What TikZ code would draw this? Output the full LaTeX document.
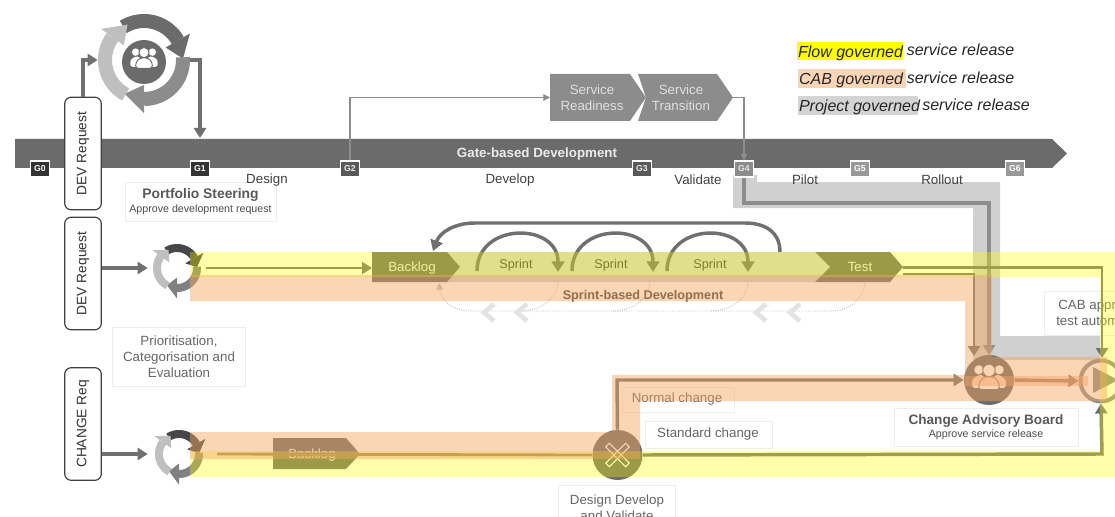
\documentclass[tikz,border=0pt]{standalone}
\usepackage{fontspec}
\setmainfont{Liberation Sans}
\usetikzlibrary{arrows.meta,calc}
\definecolor{barg}{HTML}{6B6B6B}
\definecolor{shapeg}{HTML}{8C8C8C}
\definecolor{lineg}{HTML}{707070}
\definecolor{bandg}{HTML}{D0D0D0}
\definecolor{lightg}{HTML}{BFBFBF}
\definecolor{txtg}{HTML}{595959}
\definecolor{ovy}{HTML}{FFFF00}
\definecolor{ovo}{HTML}{F4A460}
\newcommand{\cycring}[8]{%
  \draw[line width=#4*.75pt,#6] plot[domain=238:330,samples=20,variable=\t] ({#1+#3*cos(\t)},{#2+#3*sin(\t)});
  \fill[#6] ({#1+(#3-#5)*cos(330)},{#2+(#3-#5)*sin(330)}) -- ({#1+(#3+#5)*cos(330)},{#2+(#3+#5)*sin(330)}) -- ({#1+#3*cos(358)},{#2+#3*sin(358)}) -- cycle;
  \draw[line width=#4*.75pt,#7] plot[domain=-4:90,samples=20,variable=\t] ({#1+#3*cos(\t)},{#2+#3*sin(\t)});
  \fill[#7] ({#1+(#3-#5)*cos(90)},{#2+(#3-#5)*sin(90)}) -- ({#1+(#3+#5)*cos(90)},{#2+(#3+#5)*sin(90)}) -- ({#1+#3*cos(120)},{#2+#3*sin(120)}) -- cycle;
  \draw[line width=#4*.75pt,#8] plot[domain=118:216,samples=20,variable=\t] ({#1+#3*cos(\t)},{#2+#3*sin(\t)});
  \fill[#8] ({#1+(#3-#5)*cos(216)},{#2+(#3-#5)*sin(216)}) -- ({#1+(#3+#5)*cos(216)},{#2+(#3+#5)*sin(216)}) -- ({#1+#3*cos(245)},{#2+#3*sin(245)}) -- cycle;
}
\newcommand{\peopleicon}[4]{%
  \begin{scope}[shift={(#1,#2)},scale=#3]
    \foreach \s in {-1,1}{
      \fill[white] (\s*8.5,-6) circle[radius=3.8];
      \fill[white,rounded corners=1.8pt] (\s*3,9) -- (\s*14,9) -- (\s*14,2) -- (\s*9,-1.5) -- (\s*5,-1.5) -- (\s*3,2) -- cycle;
    }
    \draw[#4,fill=white,line width=.7pt] (0,-5.5) circle[radius=5.2];
    \draw[#4,fill=white,line width=.7pt,rounded corners=2pt] (-8.5,10.5) -- (8.5,10.5) -- (8.5,5) -- (4.5,0) -- (-4.5,0) -- (-8.5,5) -- cycle;
  \end{scope}
}
\tikzset{
  x=.75pt,y=-.75pt,
  gatebox/.style={draw=white,line width=1pt,minimum width=14.5pt,minimum height=12pt,inner sep=0pt,text=white,font=\bfseries\fontsize{6.5}{7}\selectfont},
  reqbox/.style={draw=black!75,line width=.9pt,fill=white,rounded corners=5pt,minimum width=84.5pt,minimum height=27.5pt,inner sep=0pt,rotate=90,font=\fontsize{10.3}{12}\selectfont,text=black!80},
  flowarrow/.style={draw=lineg,line width=3pt,-{Triangle[length=7.5pt,width=9pt]}},
  testarrow/.style={draw=lineg,line width=2.1pt,-{Triangle[length=7.5pt,width=9pt]}},
  thinarrow/.style={draw=lineg!80,line width=.8pt,-{Triangle[length=5pt,width=5pt]}},
  sprintarc/.style={draw=lineg,line width=2.6pt,-{Triangle[length=8pt,width=9.5pt]}},
  dotline/.style={draw=lightg,line width=.7pt,densely dotted},
  chev/.style={draw=black!11,line width=3.5pt},
  lab/.style={font=\fontsize{10}{12}\selectfont,text=black!75,inner sep=0pt},
  greylab/.style={font=\fontsize{10}{12}\selectfont,text=black!60,inner sep=0pt,align=center},
  sheet/.style={draw=black!7,line width=.5pt,fill=white},
  legendtxt/.style={font=\itshape\fontsize{12}{14}\selectfont,text=black!85,inner sep=0pt,anchor=base west},
  hub/.style={circle,inner sep=0pt,minimum size=#1*.75pt},
  disc/.style={circle,fill=barg,inner sep=0pt,minimum size=#1*.75pt},
  penttxt/.style={font=\fontsize{10}{12}\selectfont,text=black!12,inner sep=0pt,align=center},
}
\begin{document}
\begin{tikzpicture}
\path[use as bounding box,clip] (0,0) rectangle (1115,517);

% grey band (project governed)
\fill[bandg] (733,175) -- (757,175) -- (757,182) -- (1000,182) -- (1000,336) -- (1100,336) -- (1100,360) -- (973,360) -- (973,208) -- (733,208) -- cycle;

% gate bar
\fill[barg] (15,139) -- (1052,139) -- (1067,153.5) -- (1052,168) -- (15,168) -- cycle;
\coordinate (bartopA) at (200,138);
\node[font=\bfseries\fontsize{10}{12}\selectfont,text=black!8,inner sep=0pt] (gatetitle) at (537,154) {Gate-based Development};
\node[gatebox,fill=black!80] (g0) at (40,169) {G0};
\node[gatebox,fill=black!80] (g1) at (200,169) {G1};
\node[gatebox,fill=black!65,text=black!8] (g2) at (350,169) {G2};
\node[gatebox,fill=black!65,text=black!8] (g3) at (642,169) {G3};
\node[gatebox,fill=black!45,text=black!10] (g4) at (744,169) {G4};
\node[gatebox,fill=black!40] (g5) at (860,169) {G5};
\node[gatebox,fill=black!40] (g6) at (1015,169) {G6};

\node[lab] (phdevelop) at (510,180) {Develop};
\node[lab] (phvalidate) at (698,180) {Validate};
\node[lab] (phpilot) at (805,180) {Pilot};
\node[lab] (phrollout) at (942,180) {Rollout};

% legend
\node[fill=ovy,minimum width=79pt,minimum height=14pt,inner sep=0pt,anchor=west] (lgflow) at (797,51) {};
\node[legendtxt] at ([xshift=.6pt,yshift=-4.6pt]lgflow.west) {Flow governed};
\node[legendtxt] (lgflow2) at (906.5,55.8) {service release};
\node[fill=ovo!45,minimum width=80.5pt,minimum height=14.5pt,inner sep=0pt,anchor=west] (lgcab) at (798,78.5) {};
\node[legendtxt] at ([xshift=.6pt,yshift=-4.6pt]lgcab.west) {CAB governed};
\node[legendtxt] (lgcab2) at (906.5,83.8) {service release};
\node[fill=black!17,minimum width=90pt,minimum height=14.5pt,inner sep=0pt,anchor=west] (lgprj) at (798,105.5) {};
\node[legendtxt] at ([xshift=.6pt,yshift=-4.6pt]lgprj.west) {Project governed};
\node[legendtxt] (lgprj2) at (922,110.8) {service release};

% portfolio cycle
\node[hub=92] (cycA) at (144,60) {};
\cycring{144}{60}{39}{14}{14}{barg}{shapeg}{lightg}
\node[disc=44] (cycAc) at (144,62) {};
\peopleicon{144}{58}{.98}{barg}

% request boxes
\node[reqbox] (devA) at (83,153.5) {DEV Request};
\node[reqbox] (devB) at (83,273.5) {DEV Request};
\node[reqbox] (chg) at (83,424) {CHANGE Req};

\node[sheet,minimum width=113pt,minimum height=29pt,inner sep=0pt,align=center] (portfolio) at (200.5,201.5) {};
\node[inner sep=0pt,font=\bfseries\fontsize{10.4}{12}\selectfont,text=txtg] (pftitle) at (200.5,195) {Portfolio Steering};
\node[inner sep=0pt,font=\fontsize{8}{10}\selectfont,text=black!70] (pfsub) at (200.5,210) {Approve development request};
\node[lab] (phdesign) at (267,180) {Design};

\draw[flowarrow] (devA.east) |- (cycA.west);
\draw[flowarrow] (cycA.east) -| (bartopA);

% service shapes
\fill[shapeg] (550,74) -- (630,74) -- (646,97.5) -- (630,121) -- (550,121) -- cycle;
\fill[shapeg] (638,74) -- (717,74) -- (733,97.5) -- (717,121) -- (638,121) -- (646,97.5) -- cycle;
\node[penttxt] (readiness) at (592,98) {Service\\Readiness};
\node[penttxt] (transition) at (681,98) {Service\\Transition};
\coordinate (rdin) at (550,97.5);
\coordinate (trout) at (733,97.5);
\draw[thinarrow] (g2.north) |- (rdin);
\draw[thinarrow] (trout) -| (g4.north);

% grey flow line
\coordinate (gcab) at (989,355);
\draw[draw=shapeg,line width=2.6pt,-{Triangle[length=7.5pt,width=9pt]}] (g4.south) |- (gcab |- 0,203) -- (gcab);

% sprint row
\fill[black!18] (447,252) -- (815,252) -- (830,267) -- (815,282) -- (447,282) -- (460,267) -- cycle;
\fill[barg] (372,252) -- (447,252) -- (460,267) -- (447,282) -- (372,282) -- cycle;
\fill[barg] (815,252) -- (890,252) -- (903,267) -- (890,282) -- (815,282) -- (830,267) -- cycle;
\node[inner sep=0pt,font=\fontsize{10}{12}\selectfont,text=black!8] (backlogA) at (412,268) {Backlog};
\node[inner sep=0pt,font=\fontsize{10}{12}\selectfont,text=black!8] (testn) at (860,267) {Test};
\node[inner sep=0pt,font=\fontsize{9.5}{12}\selectfont,text=black!75] (spA) at (516,265) {Sprint};
\node[inner sep=0pt,font=\fontsize{9.5}{12}\selectfont,text=black!75] (spB) at (611,265) {Sprint};
\node[inner sep=0pt,font=\fontsize{9.5}{12}\selectfont,text=black!75] (spC) at (710,265) {Sprint};
\node[inner sep=0pt,font=\bfseries\fontsize{9.5}{12}\selectfont,text=black!75] (spdev) at (643,296) {Sprint-based Development};

\draw[sprintarc] (477,271) .. controls (477,222) and (558,222) .. (558,272);
\draw[sprintarc] (572,271) .. controls (572,222) and (653,222) .. (653,272);
\draw[sprintarc] (667,271) .. controls (667,222) and (748,222) .. (748,272);
\coordinate (loopS) at (780,252);
\coordinate (loopE) at (433,251);
\draw[sprintarc] (loopS) .. controls (780,232) and (765,223) .. (745,223) -- (475,223) .. controls (455,223) and (440,232) .. (loopE);

% dotted return
\draw[dotline,-{Triangle[length=5pt,width=5pt]}] (865,283) .. controls (862,300) and (850,311) .. (830,311) -- (470,311) .. controls (452,311) and (441,300) .. (439,283);
\draw[dotline] (558,283) .. controls (556,300) and (540,311) .. (520,311);
\draw[dotline] (650,283) .. controls (648,300) and (632,311) .. (612,311);
\draw[dotline] (748,283) .. controls (746,300) and (730,311) .. (710,311);
\foreach \cx in {483,516,755,789}{
  \draw[chev] (\cx+11,304) -- (\cx+1,312.5) -- (\cx+11,321);
}

% dev row
\node[hub=58] (cycB) at (177,268) {};
\cycring{177}{268}{20}{8}{10.5}{black!72}{black!50}{lightg}
\coordinate (lineBs) at (206,268);
\coordinate (backAin) at (372,268);
\draw[flowarrow] (devB.south |- cycB) -- (cycB.west);
\draw[testarrow] (lineBs) -- (backAin);

% prioritisation
\node[sheet,minimum width=100pt,minimum height=44pt,inner sep=0pt] (prio) at (179,356.5) {};
\node[greylab] (priot) at (179,357) {Prioritisation,\\Categorisation and\\Evaluation};

% change row
\node[hub=62] (cycC) at (179,454) {};
\cycring{179}{454}{20}{8}{10.5}{black!72}{black!50}{lightg}
\draw[flowarrow] (chg.south |- cycC) -- (cycC.west);
\coordinate (lineCs) at (217,454);
\fill[barg] (273,438) -- (346,438) -- (360,454) -- (346,469) -- (273,469) -- cycle;
\node[inner sep=0pt,font=\fontsize{10}{12}\selectfont,text=black!8] (backlogB) at (312,455) {Backlog};
\node[disc=50] (dd) at (617.5,455) {};
\begin{scope}[shift={(617.5,455)}]
  \draw[white,line width=.8pt,rotate=45] (-14,-2.6) rectangle (14,2.6);
  \draw[white,line width=.8pt,rotate=-45] (-14,-2.6) rectangle (14,2.6);
\end{scope}
\draw[draw=lineg,line width=2.1pt] (lineCs) -- (dd.west);

% labels boxes
\node[sheet,minimum width=84pt,minimum height=19pt,inner sep=0pt] (normalbox) at (678,399.5) {};
\node[greylab] (normal) at (677,399) {Normal change};
\node[sheet,minimum width=95pt,minimum height=20pt,inner sep=0pt] (stdbox) at (708.5,434.5) {};
\node[greylab] (std) at (708,434) {Standard change};
\node[sheet,minimum width=138pt,minimum height=28.5pt,inner sep=0pt] (cabbox) at (986,427) {};
\node[inner sep=0pt,font=\bfseries\fontsize{10.2}{12}\selectfont,text=txtg] (cabt) at (986,421) {Change Advisory Board};
\node[inner sep=0pt,font=\fontsize{8}{10}\selectfont,text=black!70] (cabs) at (986,435) {Approve service release};
\node[sheet,minimum width=88pt,minimum height=33pt,inner sep=0pt,anchor=west,align=left] (capp) at (1044,313) {};
\node[greylab,anchor=west,align=left] (capt) at (1056,313) {\hspace*{1.5pt}CAB appr\\test autom};
\node[sheet,minimum width=88pt,minimum height=30pt,inner sep=0pt,anchor=north] (ddbox) at (617,485) {};
\node[greylab,anchor=north] (ddt) at (617,495) {Design Develop\\and Validate};

% CAB board and release
\node[disc=50] (cabc) at (989,380) {};
\peopleicon{989}{377}{1.2}{barg}
\node[circle,draw=shapeg,line width=3pt,fill=white,inner sep=0pt,minimum size=41*.75pt] (play) at (1101,381) {};
\fill[shapeg] (1093,367) -- (1118,380) -- (1093,393) -- cycle;
\coordinate (nchg) at (617,380);
\draw[draw=lineg,line width=2.6pt,-{Triangle[length=7.5pt,width=9pt]}] (dd.north) -- (nchg) -- (cabc.west);
\draw[draw=lineg,line width=2.6pt,-{Triangle[length=7.5pt,width=9pt]}] (cabc.east) -- (play.west);
\coordinate (stdc) at (1102,454);
\draw[draw=lineg,line width=2.6pt,-{Triangle[length=7.5pt,width=9pt]}] (dd.east) -- (stdc) -- (play.south);

% test lines
\coordinate (tA) at (903,267.5);
\coordinate (tB) at (903,274);
\coordinate (tAc) at (1102,267.5);
\coordinate (tBc) at (974,274);
\coordinate (tAe) at (1102,358);
\coordinate (tBe) at (974,356);
\draw[testarrow] (tA) -- (tAc) -- (tAe);
\draw[testarrow] (tB) -- (tBc) -- (tBe);

% flow overlay (yellow)
\fill[ovy,fill opacity=.33] (190,252) -- (1115,252) -- (1115,477) -- (190,477) -- (190,451) -- (1100,451) -- (1100,277) -- (190,277) -- cycle;
% CAB overlay (orange)
\fill[ovo,fill opacity=.46] (190,275) -- (992,275) -- (992,357) -- (1107,357) -- (1107,401) -- (640,401) -- (640,459) -- (190,459) -- (190,432) -- (612,432) -- (612,375) -- (965,375) -- (965,301) -- (190,301) -- cycle;
\fill[ovo,fill opacity=.45] (965,376) rectangle (1088,386);
\end{tikzpicture}
\end{document}
